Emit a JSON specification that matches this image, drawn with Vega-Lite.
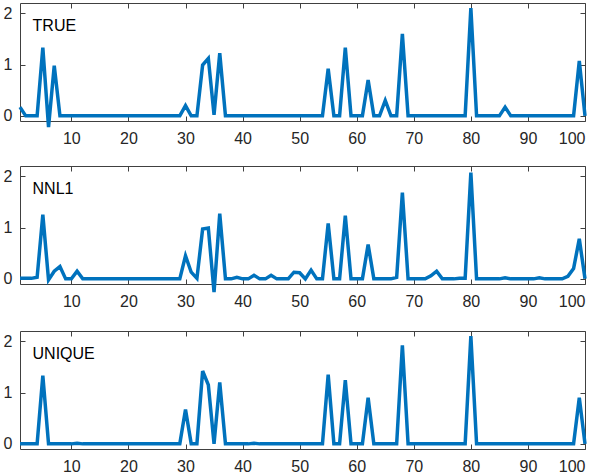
{
  "$schema": "https://vega.github.io/schema/vega-lite/v6.json",
  "padding": {"left": 2, "top": 0, "right": 0, "bottom": 0},
  "autosize": {"type": "pad"},
  "spacing": 18,
  "config": {
    "font": "Liberation Sans",
    "view": {"stroke": "#404040", "strokeWidth": 1},
    "axis": {"domain": false, "grid": false, "tickColor": "#404040", "tickWidth": 1, "tickSize": -5, "labelColor": "#262626", "labelFont": "Liberation Sans", "labelFontSize": 16, "title": null}
  },
  "data": {"values": [
    {"x":1,"t":0.17,"n":0.01,"u":0},{"x":2,"t":0,"n":0.01,"u":0},{"x":3,"t":0,"n":0.01,"u":0},{"x":4,"t":0,"n":0.03,"u":0},{"x":5,"t":1.33,"n":1.25,"u":1.33},
    {"x":6,"t":-0.22,"n":-0.02,"u":0},{"x":7,"t":0.98,"n":0.15,"u":0},{"x":8,"t":0,"n":0.24,"u":0},{"x":9,"t":0,"n":0,"u":0},{"x":10,"t":0,"n":0,"u":0},
    {"x":11,"t":0,"n":0.15,"u":0.01},{"x":12,"t":0,"n":0,"u":0},{"x":13,"t":0,"n":0,"u":0},{"x":14,"t":0,"n":0,"u":0},{"x":15,"t":0,"n":0,"u":0},
    {"x":16,"t":0,"n":0,"u":0},{"x":17,"t":0,"n":0,"u":0},{"x":18,"t":0,"n":0,"u":0},{"x":19,"t":0,"n":0,"u":0},{"x":20,"t":0,"n":0,"u":0},
    {"x":21,"t":0,"n":0,"u":0},{"x":22,"t":0,"n":0,"u":0},{"x":23,"t":0,"n":0,"u":0},{"x":24,"t":0,"n":0,"u":0},{"x":25,"t":0,"n":0,"u":0},
    {"x":26,"t":0,"n":0,"u":0},{"x":27,"t":0,"n":0,"u":0},{"x":28,"t":0,"n":0,"u":0},{"x":29,"t":0,"n":0,"u":0},{"x":30,"t":0.2,"n":0.45,"u":0.67},
    {"x":31,"t":0,"n":0.13,"u":0},{"x":32,"t":0,"n":0.01,"u":0},{"x":33,"t":0.99,"n":0.97,"u":1.42},{"x":34,"t":1.12,"n":0.99,"u":1.15},{"x":35,"t":0.02,"n":-0.26,"u":0},
    {"x":36,"t":1.22,"n":1.27,"u":1.2},{"x":37,"t":0,"n":0,"u":0},{"x":38,"t":0,"n":0,"u":0},{"x":39,"t":0,"n":0.03,"u":0},{"x":40,"t":0,"n":0,"u":0},
    {"x":41,"t":0,"n":0,"u":0},{"x":42,"t":0,"n":0.07,"u":0.01},{"x":43,"t":0,"n":0,"u":0},{"x":44,"t":0,"n":0,"u":0},{"x":45,"t":0,"n":0.07,"u":0},
    {"x":46,"t":0,"n":0,"u":0},{"x":47,"t":0,"n":0,"u":0},{"x":48,"t":0,"n":0,"u":0},{"x":49,"t":0,"n":0.13,"u":0},{"x":50,"t":0,"n":0.12,"u":0},
    {"x":51,"t":0,"n":0,"u":0},{"x":52,"t":0,"n":0.17,"u":0},{"x":53,"t":0,"n":0,"u":0},{"x":54,"t":0,"n":0,"u":0},{"x":55,"t":0.92,"n":1.08,"u":1.35},
    {"x":56,"t":0,"n":0,"u":0},{"x":57,"t":0,"n":0,"u":0},{"x":58,"t":1.33,"n":1.23,"u":1.24},{"x":59,"t":0,"n":0,"u":0},{"x":60,"t":0,"n":0,"u":0},
    {"x":61,"t":0,"n":0,"u":0},{"x":62,"t":0.7,"n":0.67,"u":0.9},{"x":63,"t":0,"n":0,"u":0},{"x":64,"t":0,"n":0,"u":0},{"x":65,"t":0.3,"n":0,"u":0},
    {"x":66,"t":0,"n":0,"u":0},{"x":67,"t":0,"n":0.03,"u":0},{"x":68,"t":1.6,"n":1.68,"u":1.92},{"x":69,"t":0,"n":0,"u":0},{"x":70,"t":0,"n":0,"u":0},
    {"x":71,"t":0,"n":0,"u":0},{"x":72,"t":0,"n":0,"u":0},{"x":73,"t":0,"n":0.06,"u":0},{"x":74,"t":0,"n":0.15,"u":0},{"x":75,"t":0,"n":0,"u":0},
    {"x":76,"t":0,"n":0,"u":0},{"x":77,"t":0,"n":0,"u":0},{"x":78,"t":0,"n":0.01,"u":0},{"x":79,"t":0,"n":0.01,"u":0},{"x":80,"t":2.1,"n":2.07,"u":2.1},
    {"x":81,"t":0,"n":0,"u":0},{"x":82,"t":0,"n":0,"u":0},{"x":83,"t":0,"n":0,"u":0},{"x":84,"t":0,"n":0,"u":0},{"x":85,"t":0,"n":0,"u":0},
    {"x":86,"t":0.17,"n":0.02,"u":0},{"x":87,"t":0,"n":0,"u":0},{"x":88,"t":0,"n":0,"u":0},{"x":89,"t":0,"n":0,"u":0},{"x":90,"t":0,"n":0,"u":0},
    {"x":91,"t":0,"n":0,"u":0},{"x":92,"t":0,"n":0.02,"u":0},{"x":93,"t":0,"n":0,"u":0},{"x":94,"t":0,"n":0,"u":0},{"x":95,"t":0,"n":0,"u":0},
    {"x":96,"t":0,"n":0,"u":0},{"x":97,"t":0,"n":0.05,"u":0},{"x":98,"t":0,"n":0.2,"u":0},{"x":99,"t":1.07,"n":0.78,"u":0.9},{"x":100,"t":0,"n":0,"u":0}
  ]},
  "vconcat": [
    {
      "width": 565, "height": 118,
      "layer": [
        {"mark": {"type": "line", "color": "#0072BD", "strokeWidth": 3.5},
         "encoding": {
           "x": {"field": "x", "type": "quantitative", "scale": {"domain": [1, 100], "nice": false, "zero": false}, "axis": {"orient": "bottom", "values": [10,20,30,40,50,60,70,80,90,100], "labelPadding": 14}},
           "y": {"field": "t", "type": "quantitative", "scale": {"domain": [-0.1, 2.2], "nice": false}, "axis": {"orient": "left", "values": [0,1,2], "labelPadding": 13}}}},
        {"mark": {"type": "line", "opacity": 0},
         "encoding": {
           "x": {"field": "x", "type": "quantitative", "axis": {"orient": "top", "values": [10,20,30,40,50,60,70,80,90,100], "labels": false}},
           "y": {"field": "t", "type": "quantitative", "axis": {"orient": "right", "values": [0,1,2], "labels": false}}}},
        {"data": {"values": [{"label": "TRUE"}]},
         "mark": {"type": "text", "align": "left", "baseline": "alphabetic", "fontSize": 16, "color": "#000000", "font": "Liberation Sans"},
         "encoding": {"x": {"datum": 3.2, "type": "quantitative", "axis": null}, "y": {"datum": 1.65, "type": "quantitative", "axis": null}, "text": {"field": "label"}}}
      ],
      "resolve": {"axis": {"x": "independent", "y": "independent"}}
    },
    {
      "width": 565, "height": 118,
      "layer": [
        {"mark": {"type": "line", "color": "#0072BD", "strokeWidth": 3.5},
         "encoding": {
           "x": {"field": "x", "type": "quantitative", "scale": {"domain": [1, 100], "nice": false, "zero": false}, "axis": {"orient": "bottom", "values": [10,20,30,40,50,60,70,80,90,100], "labelPadding": 14}},
           "y": {"field": "n", "type": "quantitative", "scale": {"domain": [-0.1, 2.2], "nice": false}, "axis": {"orient": "left", "values": [0,1,2], "labelPadding": 13}}}},
        {"mark": {"type": "line", "opacity": 0},
         "encoding": {
           "x": {"field": "x", "type": "quantitative", "axis": {"orient": "top", "values": [10,20,30,40,50,60,70,80,90,100], "labels": false}},
           "y": {"field": "n", "type": "quantitative", "axis": {"orient": "right", "values": [0,1,2], "labels": false}}}},
        {"data": {"values": [{"label": "NNL1"}]},
         "mark": {"type": "text", "align": "left", "baseline": "alphabetic", "fontSize": 16, "color": "#000000", "font": "Liberation Sans"},
         "encoding": {"x": {"datum": 3.2, "type": "quantitative", "axis": null}, "y": {"datum": 1.65, "type": "quantitative", "axis": null}, "text": {"field": "label"}}}
      ],
      "resolve": {"axis": {"x": "independent", "y": "independent"}}
    },
    {
      "width": 565, "height": 118,
      "layer": [
        {"mark": {"type": "line", "color": "#0072BD", "strokeWidth": 3.5},
         "encoding": {
           "x": {"field": "x", "type": "quantitative", "scale": {"domain": [1, 100], "nice": false, "zero": false}, "axis": {"orient": "bottom", "values": [10,20,30,40,50,60,70,80,90,100], "labelPadding": 14}},
           "y": {"field": "u", "type": "quantitative", "scale": {"domain": [-0.1, 2.2], "nice": false}, "axis": {"orient": "left", "values": [0,1,2], "labelPadding": 13}}}},
        {"mark": {"type": "line", "opacity": 0},
         "encoding": {
           "x": {"field": "x", "type": "quantitative", "axis": {"orient": "top", "values": [10,20,30,40,50,60,70,80,90,100], "labels": false}},
           "y": {"field": "u", "type": "quantitative", "axis": {"orient": "right", "values": [0,1,2], "labels": false}}}},
        {"data": {"values": [{"label": "UNIQUE"}]},
         "mark": {"type": "text", "align": "left", "baseline": "alphabetic", "fontSize": 16, "color": "#000000", "font": "Liberation Sans"},
         "encoding": {"x": {"datum": 3.2, "type": "quantitative", "axis": null}, "y": {"datum": 1.65, "type": "quantitative", "axis": null}, "text": {"field": "label"}}}
      ],
      "resolve": {"axis": {"x": "independent", "y": "independent"}}
    }
  ]
}
